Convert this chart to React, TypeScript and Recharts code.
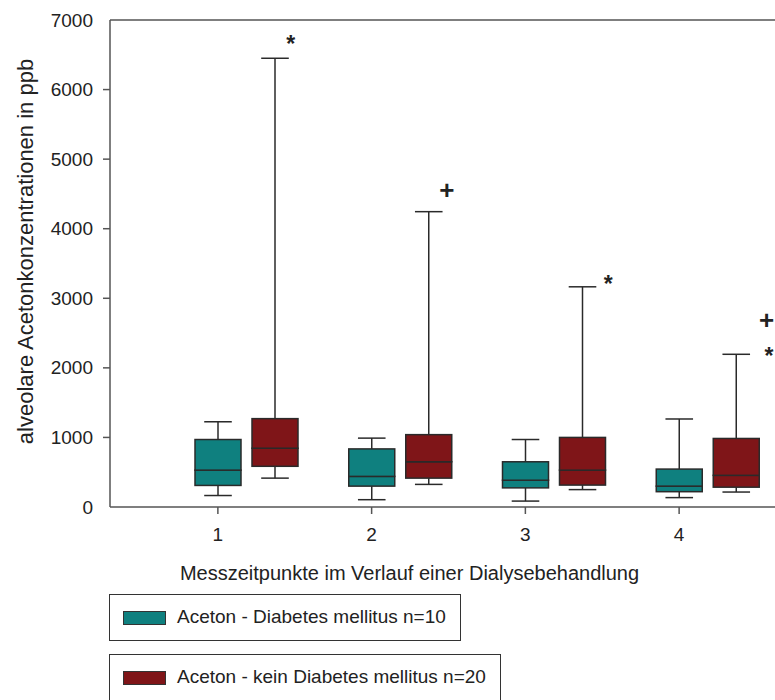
import { Bar, ComposedChart, ReferenceLine, Scatter, XAxis, YAxis } from "recharts";

const timepoints = ["1", "2", "3", "4"];

// Aceton - Diabetes mellitus n=10
const diabMin = [165, 105, 85, 135];
const diabQ1 = [310, 300, 275, 220];
const diabMedian = [530, 440, 385, 300];
const diabQ3 = [970, 835, 650, 545];
const diabMax = [1225, 990, 970, 1265];

// Aceton - kein Diabetes mellitus n=20
const noDiabMin = [415, 325, 250, 215];
const noDiabQ1 = [585, 415, 315, 285];
const noDiabMedian = [845, 650, 530, 455];
const noDiabQ3 = [1270, 1040, 1000, 985];
const noDiabMax = [6450, 4245, 3165, 2195];

// significance markers next to the red boxes
const markerX = [1.475, 2.49, 3.54, 4.57, 4.585];
const markerY = [6650, 4555, 3200, 2685, 2165];
const markerSymbol = ["*", "+", "*", "+", "*"];

const yTicks = [0, 1000, 2000, 3000, 4000, 5000, 6000, 7000];

const TEAL = "#0f807f";
const RED = "#7f1518";
const INK = "#2a2a2a";
const AXIS = "#555";
// boxes are drawn a bit wider than the slot recharts gives them,
// three slots + gaps must fit inside one band or the gap gets dropped
const WIDEN = 4;

const rows = timepoints.map((name, i) => ({
  name,
  ghost: 0,
  dBase: diabMin[i],
  dLow: diabQ1[i] - diabMin[i],
  dBoxLo: diabMedian[i] - diabQ1[i],
  dBoxHi: diabQ3[i] - diabMedian[i],
  dHigh: diabMax[i] - diabQ3[i],
  nBase: noDiabMin[i],
  nLow: noDiabQ1[i] - noDiabMin[i],
  nBoxLo: noDiabMedian[i] - noDiabQ1[i],
  nBoxHi: noDiabQ3[i] - noDiabMedian[i],
  nHigh: noDiabMax[i] - noDiabQ3[i],
}));

const markers = markerX.map((x, i) => ({ x, y: markerY[i], sym: markerSymbol[i] }));

const boxShape = (fill: string) => (props: any) => {
  const { x, y, width, height } = props;
  return (
    <rect
      x={x - WIDEN}
      y={y}
      width={width + 2 * WIDEN}
      height={height}
      fill={fill}
      stroke={INK}
      strokeWidth={1.5}
    />
  );
};

function LowWhisker(props: any) {
  const { x, y, width, height } = props;
  const cx = x + width / 2;
  const cap = (width + 2 * WIDEN) * 0.3;
  return (
    <g stroke={INK} strokeWidth={1.5}>
      <line x1={cx} x2={cx} y1={y} y2={y + height} />
      <line x1={cx - cap} x2={cx + cap} y1={y + height} y2={y + height} />
    </g>
  );
}

function HighWhisker(props: any) {
  const { x, y, width, height } = props;
  const cx = x + width / 2;
  const cap = (width + 2 * WIDEN) * 0.3;
  return (
    <g stroke={INK} strokeWidth={1.5}>
      <line x1={cx} x2={cx} y1={y} y2={y + height} />
      <line x1={cx - cap} x2={cx + cap} y1={y} y2={y} />
    </g>
  );
}

function YTick(props: any) {
  const { x, y, payload } = props;
  const inner = payload.value > 0 && payload.value < 7000;
  return (
    <g>
      <text x={x} y={y} textAnchor="end" dominantBaseline="central" fontSize={19} fill="#222">
        {payload.value}
      </text>
      {inner && <line x1={x + 10} x2={x + 17} y1={y} y2={y} stroke={AXIS} strokeWidth={1.5} />}
    </g>
  );
}

function MarkerShape(props: any) {
  const { cx, cy, payload } = props;
  const plus = payload.sym === "+";
  return (
    <text
      x={cx}
      y={cy}
      textAnchor="middle"
      dominantBaseline="central"
      fontSize={plus ? 26 : 23}
      fontWeight="bold"
      fill="#222"
    >
      {payload.sym}
    </text>
  );
}

function LegendEntry({ top, width, color, label }: { top: number; width: number; color: string; label: string }) {
  return (
    <div
      style={{
        position: "absolute",
        left: 109,
        top,
        width,
        height: 47,
        border: "1px solid #333",
        boxSizing: "border-box",
      }}
    >
      <div
        style={{
          position: "absolute",
          left: 13,
          top: 16,
          width: 43,
          height: 14,
          background: color,
          border: "1px solid #333",
          boxSizing: "border-box",
        }}
      />
      <div style={{ position: "absolute", left: 67, top: 11, fontSize: 19, color: "#222", whiteSpace: "nowrap" }}>
        {label}
      </div>
    </div>
  );
}

export default function App() {
  return (
    <div
      style={{
        position: "absolute",
        left: 0,
        top: 0,
        width: 775,
        height: 700,
        overflow: "hidden",
        background: "#fff",
        fontFamily: "'Liberation Sans', Arial, sans-serif",
      }}
    >
      <ComposedChart
        width={775}
        height={600}
        data={rows}
        margin={{ top: 20, right: 0, bottom: 0, left: 0 }}
        barSize={38}
        barGap={19}
      >
        <XAxis
          xAxisId="cat"
          dataKey="name"
          height={93}
          padding={{ left: 31, right: 19 }}
          axisLine={{ stroke: AXIS, strokeWidth: 1.5 }}
          tickLine={{ stroke: AXIS, strokeWidth: 1.5 }}
          tickSize={7}
          tickMargin={14}
          tick={{ fontSize: 19, fill: "#222" }}
          label={{
            content: ({ viewBox }: any) => (
              <text
                x={viewBox.x + viewBox.width / 2 - 33}
                y={viewBox.y + 73}
                textAnchor="middle"
                fontSize={20}
                fill="#222"
              >
                Messzeitpunkte im Verlauf einer Dialysebehandlung
              </text>
            ),
          }}
        />
        <XAxis xAxisId="num" type="number" dataKey="x" domain={[0.3, 4.624]} allowDataOverflow hide />
        <YAxis
          width={110}
          domain={[0, 7000]}
          ticks={yTicks}
          allowDataOverflow
          axisLine={{ stroke: AXIS, strokeWidth: 1.5 }}
          tickLine={false}
          tickSize={7}
          tickMargin={10}
          tick={<YTick />}
          label={{
            content: ({ viewBox }: any) => (
              <text
                transform={`translate(${viewBox.x + 33}, ${viewBox.y + viewBox.height / 2 - 12}) rotate(-90)`}
                textAnchor="middle"
                fontSize={22}
                fill="#222"
              >
                alveolare Acetonkonzentrationen in ppb
              </text>
            ),
          }}
        />
        <ReferenceLine xAxisId="cat" y={7000} stroke={AXIS} strokeWidth={1.5} />

        <Bar xAxisId="cat" dataKey="ghost" stackId="g" fill="none" isAnimationActive={false} />

        <Bar xAxisId="cat" dataKey="dBase" stackId="d" fill="none" isAnimationActive={false} />
        <Bar xAxisId="cat" dataKey="dLow" stackId="d" shape={LowWhisker} isAnimationActive={false} />
        <Bar xAxisId="cat" dataKey="dBoxLo" stackId="d" shape={boxShape(TEAL)} isAnimationActive={false} />
        <Bar xAxisId="cat" dataKey="dBoxHi" stackId="d" shape={boxShape(TEAL)} isAnimationActive={false} />
        <Bar xAxisId="cat" dataKey="dHigh" stackId="d" shape={HighWhisker} isAnimationActive={false} />

        <Bar xAxisId="cat" dataKey="nBase" stackId="n" fill="none" isAnimationActive={false} />
        <Bar xAxisId="cat" dataKey="nLow" stackId="n" shape={LowWhisker} isAnimationActive={false} />
        <Bar xAxisId="cat" dataKey="nBoxLo" stackId="n" shape={boxShape(RED)} isAnimationActive={false} />
        <Bar xAxisId="cat" dataKey="nBoxHi" stackId="n" shape={boxShape(RED)} isAnimationActive={false} />
        <Bar xAxisId="cat" dataKey="nHigh" stackId="n" shape={HighWhisker} isAnimationActive={false} />

        <Scatter xAxisId="num" data={markers} dataKey="y" shape={MarkerShape} isAnimationActive={false} />
      </ComposedChart>

      <LegendEntry top={594} width={352} color={TEAL} label="Aceton - Diabetes mellitus n=10" />
      <LegendEntry top={654} width={392} color={RED} label="Aceton - kein Diabetes mellitus n=20" />
    </div>
  );
}
